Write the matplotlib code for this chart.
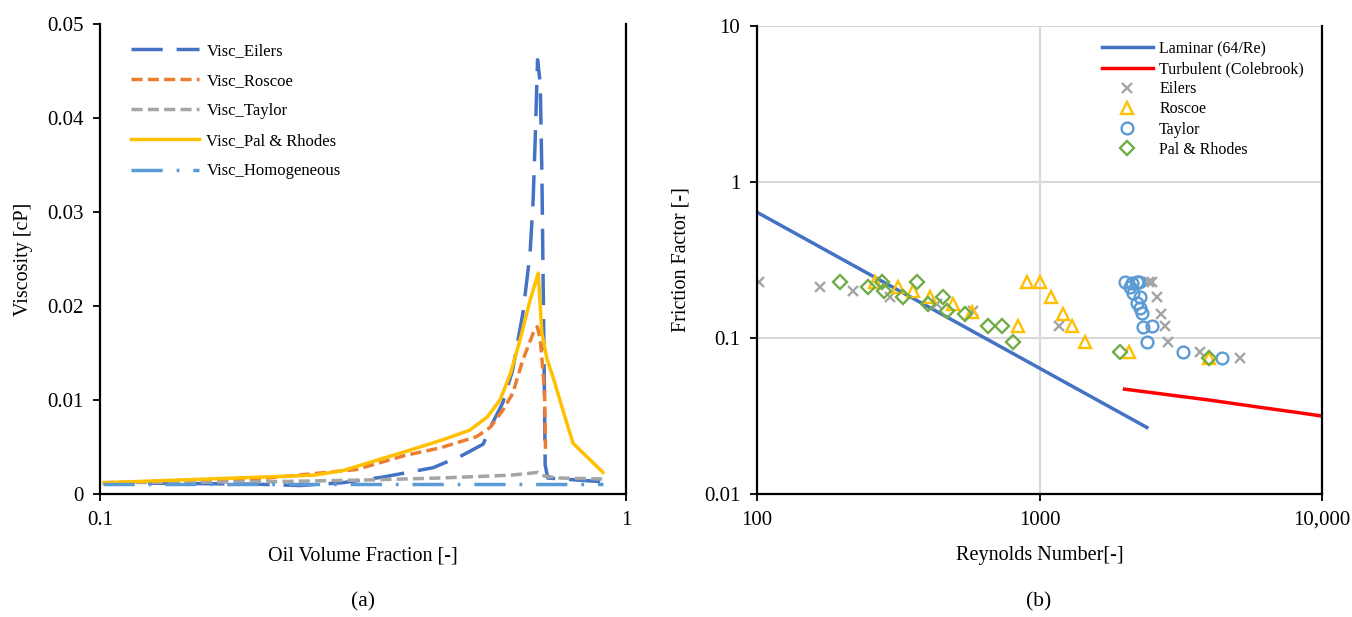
import numpy as np
import matplotlib.pyplot as plt

plt.rcParams['font.family'] = ['Liberation Serif', 'DejaVu Serif']

# ---- (a) viscosity vs oil volume fraction ----
eilers_x = [0.1013, 0.197, 0.240, 0.289, 0.345, 0.43, 0.488, 0.535, 0.558, 0.583, 0.609, 0.637,
            0.657, 0.666, 0.672, 0.679, 0.687, 0.692, 0.699, 0.702, 0.71, 0.904]
eilers_y = [0.0012, 0.00105, 0.0009, 0.0012, 0.0018, 0.0028, 0.0041, 0.0053, 0.0076, 0.0097, 0.0132, 0.0193,
            0.0256, 0.0313, 0.0377, 0.0462, 0.0437, 0.034, 0.0129, 0.0031, 0.0017, 0.0013]

roscoe_x = [0.1013, 0.2, 0.307, 0.38, 0.443, 0.52, 0.552, 0.583, 0.609, 0.637, 0.666, 0.678, 0.687, 0.700, 0.703]
roscoe_y = [0.0012, 0.0016, 0.0026, 0.0041, 0.0049, 0.0061, 0.0071, 0.0089, 0.0107, 0.0143, 0.0171, 0.0178,
            0.0165, 0.011, 0.0048]

taylor_x = [0.1013, 0.206, 0.326, 0.443, 0.603, 0.68, 0.70, 0.75, 0.904]
taylor_y = [0.0012, 0.0013, 0.0015, 0.0017, 0.0020, 0.0023, 0.0019, 0.0017, 0.0016]

pal_x = [0.1017, 0.255, 0.29, 0.38, 0.45, 0.505, 0.545, 0.576, 0.603, 0.629, 0.657, 0.681, 0.692, 0.708,
         0.726, 0.755, 0.793, 0.904]
pal_y = [0.0012, 0.0020, 0.0025, 0.0045, 0.0058, 0.0068, 0.0082, 0.0100, 0.0128, 0.0164, 0.0206, 0.0235,
         0.0171, 0.0143, 0.0125, 0.0093, 0.0054, 0.0023]

homog_x = [0.1013, 0.3, 0.5, 0.7, 0.904]
homog_y = [0.0011, 0.0011, 0.0011, 0.0011, 0.0011]

# ---- (b) friction factor vs Reynolds number ----
lam_re = [100, 2400]
lam_f = [0.64, 0.0267]
turb_re = [2000, 4000, 6000, 8000, 10000]
turb_f = [0.047, 0.040, 0.036, 0.0335, 0.0316]

eil_re = [102, 167, 219, 296, 434, 582, 1172, 2441, 2500, 2606, 2692, 2780, 2850, 3698, 5126]
eil_f = [0.23, 0.211, 0.20, 0.182, 0.166, 0.150, 0.119, 0.23, 0.23, 0.182, 0.1435, 0.119, 0.0936, 0.0813, 0.074]

ros_re = [262, 316, 357, 410, 494, 577, 839, 903, 1004, 1098, 1211, 1303, 1449, 2074, 3981]
ros_f = [0.23, 0.211, 0.20, 0.182, 0.166, 0.147, 0.119, 0.23, 0.23, 0.182, 0.1435, 0.119, 0.0936, 0.081, 0.074]

tay_re = [2008, 2126, 2213, 2250, 2091, 2143, 2269, 2213, 2269, 2306, 2325, 2500, 2402, 3220, 4426]
tay_f = [0.23, 0.225, 0.23, 0.23, 0.211, 0.194, 0.182, 0.168, 0.156, 0.145, 0.118, 0.119, 0.0936, 0.0813, 0.074]

pal_re = [197, 247, 277, 282, 329, 368, 403, 455, 471, 545, 657, 737, 805, 1928, 3981]
pal_f = [0.23, 0.211, 0.23, 0.20, 0.182, 0.23, 0.166, 0.182, 0.150, 0.1435, 0.119, 0.119, 0.0936, 0.0813, 0.074]

fig = plt.figure(figsize=(13.52, 6.17), dpi=100)
ax1 = fig.add_axes([100/1352, 123/617, 526/1352, 470/617])
ax2 = fig.add_axes([757/1352, 123/617, 565/1352, 468/617])

lw = 2.5
ax1.plot(eilers_x, eilers_y, color='#4472C4', lw=lw, dashes=(9, 4), label='Visc_Eilers')
ax1.plot(roscoe_x, roscoe_y, color='#ED7D31', lw=lw, dashes=(3.2, 1.5), label='Visc_Roscoe')
ax1.plot(taylor_x, taylor_y, color='#A5A5A5', lw=lw, dashes=(3.2, 1.5), label='Visc_Taylor')
ax1.plot(pal_x, pal_y, color='#FFC000', lw=lw, label='Visc_Pal & Rhodes')
ax1.plot(homog_x, homog_y, color='#5B9BD5', lw=lw, dashes=(9, 4, 0.8, 4), label='Visc_Homogeneous')

ax1.set_xscale('log')
ax1.set_xlim(0.1, 1)
ax1.set_ylim(0, 0.05)
ax1.set_xticks([0.1, 1])
ax1.set_xticklabels(['0.1', '1'])
ax1.xaxis.set_minor_locator(plt.NullLocator())
ax1.set_yticks([0, 0.01, 0.02, 0.03, 0.04, 0.05])
ax1.set_yticklabels(['0', '0.01', '0.02', '0.03', '0.04', '0.05'])
ax1.set_xlabel('Oil Volume Fraction [-]', fontsize=14.5, labelpad=12)
ax1.set_ylabel('Viscosity [cP]', fontsize=14.5, labelpad=10)
ax1.legend(loc='upper left', bbox_to_anchor=(0.058, 0.96), frameon=False, fontsize=12,
           handlelength=4.1, handletextpad=0.45, labelspacing=0.85, borderpad=0, borderaxespad=0)

ax2.plot(lam_re, lam_f, color='#4472C4', lw=2.5, label='Laminar (64/Re)')
ax2.plot(turb_re, turb_f, color='#FF0000', lw=2.5, label='Turbulent (Colebrook)')
ax2.plot(eil_re, eil_f, ls='none', marker='x', ms=7, mew=1.7, color='#A5A5A5', label='Eilers')
ax2.plot(ros_re, ros_f, ls='none', marker='^', ms=8.5, mew=1.7, mfc='none', mec='#FFC000', label='Roscoe')
ax2.plot(tay_re, tay_f, ls='none', marker='o', ms=8.5, mew=1.7, mfc='none', mec='#5B9BD5', label='Taylor')
ax2.plot(pal_re, pal_f, ls='none', marker='D', ms=6.8, mew=1.7, mfc='none', mec='#70AD47', label='Pal & Rhodes')

ax2.set_xscale('log')
ax2.set_yscale('log')
ax2.set_xlim(100, 10000)
ax2.set_ylim(0.01, 10)
ax2.set_xticks([100, 1000, 10000])
ax2.set_xticklabels(['100', '1000', '10,000'])
ax2.set_yticks([0.01, 0.1, 1, 10])
ax2.set_yticklabels(['0.01', '0.1', '1', '10'])
ax2.xaxis.set_minor_locator(plt.NullLocator())
ax2.yaxis.set_minor_locator(plt.NullLocator())
ax2.grid(True, color='#D9D9D9', lw=1.5)
ax2.set_axisbelow(True)
ax2.set_xlabel('Reynolds Number[-]', fontsize=14.5, labelpad=12)
ax2.set_ylabel('Friction Factor [-]', fontsize=14.5, labelpad=10)
ax2.legend(loc='upper left', bbox_to_anchor=(0.61, 0.968), frameon=False, fontsize=11.5, numpoints=1,
           handlelength=3.2, handletextpad=0.4, labelspacing=0.26, borderpad=0, borderaxespad=0)

for ax in (ax1, ax2):
    ax.spines['top'].set_visible(False)
    for s in ('left', 'bottom', 'right'):
        ax.spines[s].set_color('black')
        ax.spines[s].set_linewidth(1.6)
    ax.tick_params(axis='both', which='major', labelsize=15, direction='out', length=5, width=1.3,
                   color='black', pad=7)
    ax.tick_params(axis='y', right=False)

fig.text(363/1352, 1 - 602/617, '(a)', ha='center', va='center', fontsize=15.5)
fig.text(1039/1352, 1 - 602/617, '(b)', ha='center', va='center', fontsize=15.5)

fig.savefig('out.png', dpi=100)
